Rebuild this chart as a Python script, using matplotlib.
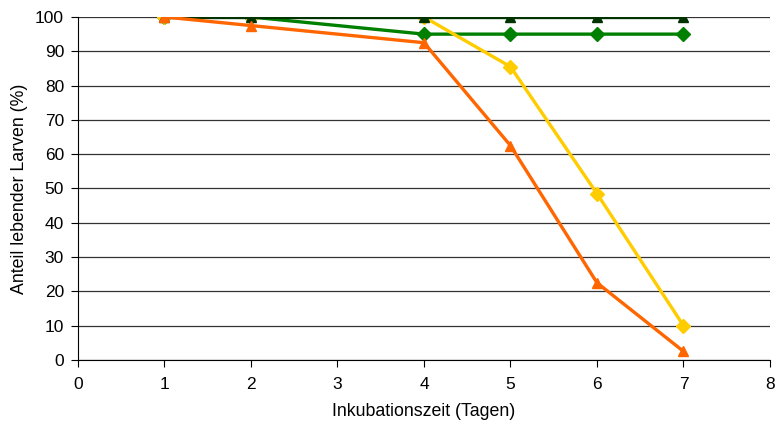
import matplotlib
matplotlib.use("Agg")
import matplotlib.pyplot as plt

plt.rcParams['font.family'] = ['Liberation Sans', 'DejaVu Sans']

# Inkubationszeit (Tage)
tage = [1, 2, 4, 5, 6, 7]

# Anteil lebender Larven (%)
gruen = [100, 100, 95, 95, 95, 95]
gelb = [100, 100, 100, 85.5, 48.5, 10]
dunkelgruen = [100, 100, 100, 100, 100, 100]
orange = [100, 97.5, 92.5, 62.5, 22.5, 2.5]

fig = plt.figure(figsize=(7.75, 4.3), dpi=100)
ax = fig.add_axes([0.1006, 0.163, 0.8929, 0.7975])

ax.plot(tage, gruen, color='#008000', lw=2.4, marker='D', ms=7, zorder=3)
ax.plot(tage, gelb, color='#FFCC00', lw=2.4, marker='D', ms=7, zorder=4)
ax.plot(tage, dunkelgruen, color='#003300', lw=2.4, marker='^', ms=7, zorder=5)
ax.plot(tage, orange, color='#FF6600', lw=2.4, marker='^', ms=7, zorder=6)

ax.set_xlim(0, 8)
ax.set_ylim(0, 100)
ax.set_xticks(range(0, 9))
ax.set_yticks(range(0, 101, 10))
ax.yaxis.grid(True, color='#333333', lw=0.9)
ax.set_axisbelow(True)
for s in ['top', 'right']:
    ax.spines[s].set_visible(False)
ax.spines['left'].set_color('black')
ax.spines['bottom'].set_color('black')
ax.tick_params(axis='both', direction='out', length=5, labelsize=12.5, colors='black')
ax.tick_params(axis='x', pad=7)
ax.tick_params(axis='y', pad=5)

ax.set_xlabel('Inkubationszeit (Tagen)', fontsize=12.8, labelpad=8)
ax.set_ylabel('Anteil lebender Larven (%)', fontsize=12.8, labelpad=5)

fig.savefig('out.png', dpi=100)
